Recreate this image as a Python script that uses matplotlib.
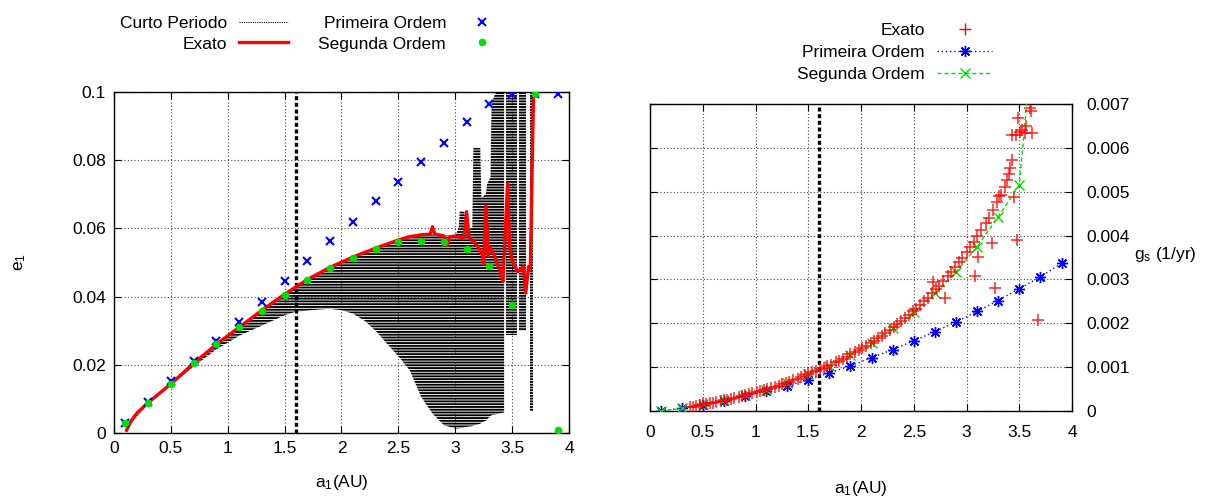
import matplotlib
matplotlib.use("Agg")
import matplotlib.pyplot as plt
from matplotlib.lines import Line2D
import numpy as np

plt.rcParams['font.family'] = ['Liberation Sans', 'DejaVu Sans']
plt.rcParams['hatch.linewidth'] = 1.35
plt.rcParams['mathtext.fontset'] = 'custom'
plt.rcParams['mathtext.rm'] = 'Liberation Sans'
plt.rcParams['mathtext.it'] = 'Liberation Sans'

# ---------------- left panel: e1 vs a1 ----------------
a_orders = [0.1, 0.3, 0.5, 0.7, 0.9, 1.1, 1.3, 1.5, 1.7, 1.9,
            2.1, 2.3, 2.5, 2.7, 2.9, 3.1, 3.3, 3.5, 3.7, 3.9]
e_primeira = [0.0029, 0.0091, 0.0152, 0.0212, 0.0271, 0.0326, 0.0385, 0.0445, 0.0504, 0.0564,
              0.0620, 0.0680, 0.0736, 0.0795, 0.0850, 0.0911, 0.0966, 0.0995, 0.0995, 0.0995]
e_segunda = [0.0029, 0.0089, 0.0144, 0.0204, 0.0260, 0.0310, 0.0359, 0.0405, 0.0449, 0.0484,
             0.0514, 0.0540, 0.0559, 0.0564, 0.0559, 0.0540, 0.0489, 0.0374, 0.0995, 0.0010]

a_exato = [0.11, 0.15, 0.2, 0.3, 0.5, 0.7, 0.9, 1.1, 1.3, 1.5, 1.7, 1.9, 2.1, 2.3, 2.5,
           2.6, 2.7, 2.78, 2.8, 2.82, 2.84, 2.9, 2.93, 2.95, 3.0, 3.06, 3.08, 3.1, 3.12,
           3.15, 3.2, 3.24, 3.25, 3.27, 3.29, 3.3, 3.35, 3.4, 3.42, 3.46, 3.48, 3.5,
           3.55, 3.6, 3.62, 3.645, 3.66, 3.69]
e_exato = [0.0008, 0.0035, 0.0058, 0.0089, 0.0144, 0.0204, 0.0260, 0.0310, 0.0360, 0.0407,
           0.0450, 0.0486, 0.0516, 0.0542, 0.0566, 0.0576, 0.0581, 0.0583, 0.0605, 0.0584,
           0.0582, 0.0578, 0.0550, 0.0575, 0.0578, 0.0572, 0.0575, 0.0649, 0.0575, 0.0565,
           0.0547, 0.0520, 0.0497, 0.0666, 0.0520, 0.0547, 0.0517, 0.0470, 0.0444, 0.0731,
           0.0540, 0.0507, 0.0473, 0.0488, 0.0410, 0.0488, 0.0478, 0.1020]

# short-period oscillation band (upper / lower reach of e1)
a_band = [0.1, 0.3, 0.5, 0.7, 0.9, 1.1, 1.3, 1.5, 1.6, 1.8, 1.9, 2.0, 2.1, 2.2, 2.3, 2.4,
          2.5, 2.6, 2.7, 2.8, 2.9, 3.0, 3.03, 3.04, 3.08, 3.10, 3.15, 3.16, 3.22, 3.23,
          3.27, 3.28, 3.31, 3.32, 3.36, 3.43]
e_band_hi = [0.0010, 0.0090, 0.0145, 0.0205, 0.0260, 0.0310, 0.0360, 0.0405, 0.0428, 0.0468,
             0.0485, 0.0500, 0.0515, 0.0528, 0.0540, 0.0553, 0.0565, 0.0575, 0.0580, 0.0582,
             0.0580, 0.0578, 0.0600, 0.0650, 0.0650, 0.0600, 0.0600, 0.0836, 0.0836, 0.0690,
             0.0700, 0.0730, 0.0750, 0.0970, 0.1000, 0.1000]
e_band_lo = [0.0010, 0.0085, 0.0140, 0.0195, 0.0245, 0.0285, 0.0315, 0.0345, 0.0356, 0.0362,
             0.0364, 0.0360, 0.0350, 0.0330, 0.0300, 0.0262, 0.0225, 0.0184, 0.0106, 0.0057,
             0.0023, 0.0013, 0.0013, 0.0014, 0.0016, 0.0018, 0.0020, 0.0022, 0.0027, 0.0030,
             0.0036, 0.0040, 0.0050, 0.0052, 0.0055, 0.0060]
# isolated short-period columns at large a1: (left, right, bottom, top)
col_left = [3.45, 3.56, 3.655]
col_right = [3.54, 3.62, 3.68]
col_bottom = [0.0288, 0.0300, 0.0064]
col_top = [0.1000, 0.1000, 0.1000]

# ---------------- right panel: g_s vs a1 ----------------
g_primeira = [0.00001, 0.00006, 0.00014, 0.00023, 0.00034, 0.00046, 0.00058, 0.00071, 0.00087, 0.00103,
              0.00122, 0.00140, 0.00160, 0.00181, 0.00203, 0.00227, 0.00252, 0.00279, 0.00306, 0.00337]
a_seg_g = [0.1, 0.3, 0.5, 0.7, 0.9, 1.1, 1.3, 1.5, 1.7, 1.9, 2.1, 2.3, 2.5, 2.7, 2.9, 3.1, 3.3, 3.5, 3.7]
g_segunda = [0.00000, 0.00006, 0.00015, 0.00024, 0.00036, 0.00049, 0.00064, 0.00084, 0.00103, 0.00128,
             0.00156, 0.00189, 0.00226, 0.00268, 0.00317, 0.00375, 0.00443, 0.00515, 0.01050]

a_exato_g = [0.38, 0.41, 0.44, 0.47, 0.50, 0.53, 0.57, 0.60, 0.63, 0.67, 0.70, 0.73, 0.77, 0.80,
             0.84, 0.87, 0.90, 0.94, 0.97, 1.01, 1.04, 1.08, 1.11, 1.15, 1.18, 1.22, 1.25, 1.29,
             1.32, 1.36, 1.40, 1.43, 1.47, 1.50, 1.54, 1.57, 1.61, 1.65, 1.68, 1.72, 1.76, 1.79,
             1.83, 1.87, 1.90, 1.94, 1.98, 2.01, 2.05, 2.09, 2.12, 2.16, 2.20, 2.23, 2.27, 2.31,
             2.34, 2.38, 2.42, 2.45, 2.49, 2.52, 2.56, 2.60, 2.63, 2.67, 2.71, 2.74, 2.78, 2.82,
             2.85, 2.89, 2.93, 2.96, 3.00, 3.03, 3.07, 3.10, 3.14, 3.18, 3.21, 3.25, 3.29, 3.31,
             3.33, 3.36, 3.38, 3.40, 3.41, 3.43,
             3.43, 3.47, 3.49, 3.507, 3.53, 3.55, 3.56, 3.60, 3.61, 3.624,
             2.686, 2.796, 3.08, 3.106, 3.238, 3.27, 3.453, 3.476, 3.68]
g_exato = [0.00009, 0.00010, 0.00012, 0.00013, 0.00015, 0.00016, 0.00018, 0.00019, 0.00021, 0.00023,
           0.00024, 0.00026, 0.00028, 0.00030, 0.00032, 0.00034, 0.00036, 0.00038, 0.00040, 0.00043,
           0.00045, 0.00048, 0.00050, 0.00053, 0.00055, 0.00058, 0.00061, 0.00064, 0.00067, 0.00070,
           0.00074, 0.00077, 0.00081, 0.00084, 0.00088, 0.00091, 0.00095, 0.00099, 0.00102, 0.00106,
           0.00111, 0.00114, 0.00119, 0.00124, 0.00129, 0.00134, 0.00139, 0.00143, 0.00149, 0.00155,
           0.00159, 0.00166, 0.00172, 0.00177, 0.00184, 0.00192, 0.00198, 0.00205, 0.00213, 0.00219,
           0.00227, 0.00233, 0.00242, 0.00251, 0.00258, 0.00268, 0.00278, 0.00286, 0.00297, 0.00308,
           0.00317, 0.00328, 0.00340, 0.00350, 0.00363, 0.00373, 0.00386, 0.00398, 0.00412, 0.00428,
           0.00440, 0.00458, 0.00476, 0.00490, 0.00493, 0.00510, 0.00527, 0.00540, 0.00555, 0.00572,
           0.00629, 0.00630, 0.00667, 0.00637, 0.00640, 0.00633, 0.00650, 0.00690, 0.00685, 0.00635,
           0.00295, 0.00257, 0.00308, 0.00352, 0.00384, 0.00281, 0.00489, 0.00390, 0.00207]

a_limit = 1.6

x_ticks = [0, 0.5, 1, 1.5, 2, 2.5, 3, 3.5, 4]
x_ticklabels = ['0', '0.5', '1', '1.5', '2', '2.5', '3', '3.5', '4']
e_ticks = [0, 0.02, 0.04, 0.06, 0.08, 0.1]
e_ticklabels = ['0', '0.02', '0.04', '0.06', '0.08', '0.1']
g_ticks = [0, 0.001, 0.002, 0.003, 0.004, 0.005, 0.006, 0.007]
g_ticklabels = ['0', '0.001', '0.002', '0.003', '0.004', '0.005', '0.006', '0.007']

RED = '#ff0000'
BLUE = '#0000ff'
GREEN = '#00e000'
FS = 12.5

fig = plt.figure(figsize=(12.17, 4.97), dpi=100)
axL = fig.add_axes([0.0937, 0.1288, 0.3738, 0.6861])
axR = fig.add_axes([0.5341, 0.1730, 0.3468, 0.6177])


def style_axes(ax):
    ax.grid(True, linestyle=(0, (1, 2)), color='#444444', linewidth=0.8)
    ax.set_axisbelow(True)
    ax.tick_params(direction='in', length=5, width=0.8, top=True, right=True,
                   labelsize=FS, pad=6)
    for s in ax.spines.values():
        s.set_linewidth(1.0)
    ax.set_xlim(0, 4)
    ax.set_xticks(x_ticks)
    ax.set_xticklabels(x_ticklabels)


# ---- left ----
style_axes(axL)
axL.fill_between(a_band, e_band_lo, e_band_hi, facecolor='none', edgecolor='black',
                 hatch='------', linewidth=0, zorder=2)
for l, r, b, t in zip(col_left, col_right, col_bottom, col_top):
    axL.fill_between([l, r], [b, b], [t, t], facecolor='none', edgecolor='black',
                     hatch='------', linewidth=0, zorder=2)
axL.axvline(a_limit, color='black', linestyle=(0, (1.2, 0.8)), linewidth=2.4, zorder=3)
axL.plot(a_exato, e_exato, color=RED, linewidth=2.4, zorder=4)
axL.plot(a_orders, e_primeira, linestyle='none', marker='x', color=BLUE,
         markersize=6, markeredgewidth=1.5, zorder=5)
axL.plot(a_orders, e_segunda, linestyle='none', marker='o', color=GREEN,
         markersize=5.5, markeredgewidth=0, zorder=6)
axL.set_ylim(0, 0.1)
axL.set_yticks(e_ticks)
axL.set_yticklabels(e_ticklabels)
axL.set_xlabel(r'a$_1$(AU)', fontsize=FS, labelpad=12)
axL.set_ylabel(r'e$_1$', fontsize=FS, labelpad=32)

handlesL = [
    Line2D([], [], color='black', linestyle=(0, (1, 1)), linewidth=0.8),
    Line2D([], [], color=RED, linewidth=2.4),
    Line2D([], [], linestyle='none', marker='x', color=BLUE, markersize=6, markeredgewidth=1.5),
    Line2D([], [], linestyle='none', marker='o', color=GREEN, markersize=5.5, markeredgewidth=0),
]
labelsL = ['Curto Periodo', 'Exato', 'Primeira Ordem', 'Segunda Ordem']
fig.legend(handlesL, labelsL, ncol=2, markerfirst=False, frameon=False, fontsize=FS,
           loc='upper left', bbox_to_anchor=(120 / 1217, 1 - 16 / 497),
           handlelength=2.8, handletextpad=0.7, columnspacing=1.75,
           labelspacing=0.3, borderpad=0, borderaxespad=0)

# ---- right ----
style_axes(axR)
axR.axvline(a_limit, color='black', linestyle=(0, (1.2, 0.8)), linewidth=2.4, zorder=3)
axR.plot(a_orders, g_primeira, linestyle=(0, (1, 2)), linewidth=1.0, color=BLUE,
         marker=(8, 2, 0), markersize=8, markeredgewidth=1.0, zorder=4)
axR.plot(a_seg_g, g_segunda, linestyle=(0, (3, 2)), linewidth=1.0, color=GREEN,
         marker='x', markersize=7, markeredgewidth=1.0, zorder=5)
axR.plot(a_exato_g, g_exato, linestyle='none', marker='+', color=RED,
         markersize=8, markeredgewidth=1.1, alpha=0.85, zorder=6)
axR.set_ylim(0, 0.007)
axR.set_yticks(g_ticks)
axR.set_yticklabels(g_ticklabels)
axR.tick_params(labelleft=False, labelright=True, pad=10)
axR.set_xlabel(r'a$_1$(AU)', fontsize=FS, labelpad=28)
fig.text(1165 / 1217, 1 - 255 / 497, r'g$_s$ (1/yr)', fontsize=FS,
         ha='center', va='center')

handlesR = [
    Line2D([], [], linestyle='none', marker='+', color=RED, markersize=8, markeredgewidth=1.0),
    Line2D([], [], linestyle=(0, (1, 2)), linewidth=1.0, color=BLUE,
           marker=(8, 2, 0), markersize=8, markeredgewidth=1.0),
    Line2D([], [], linestyle=(0, (3, 2)), linewidth=1.0, color=GREEN,
           marker='x', markersize=7, markeredgewidth=1.0),
]
labelsR = ['Exato', 'Primeira Ordem', 'Segunda Ordem']
fig.legend(handlesR, labelsR, ncol=1, markerfirst=False, frameon=False, fontsize=FS,
           loc='upper left', bbox_to_anchor=(797 / 1217, 1 - 23 / 497),
           handlelength=3.2, handletextpad=0.7, labelspacing=0.38,
           borderpad=0, borderaxespad=0)

fig.savefig('out.png', dpi=100)
